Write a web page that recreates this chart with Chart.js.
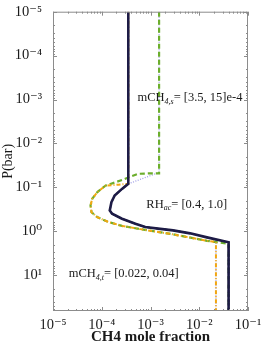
<!DOCTYPE html>
<html>
<head>
<meta charset="utf-8">
<script src="https://cdn.jsdelivr.net/npm/chart.js@4.4.0/dist/chart.umd.min.js"></script>
<style>
  html, body { margin: 0; padding: 0; background: #fff; }
  #wrap { width: 266px; height: 347px; }
</style>
</head>
<body>
<div id="wrap"><canvas id="myChart" width="266" height="347"></canvas></div>
<script>
// axis limits
let xMin = 1e-5, xMax = 1e-1;
let pMin = 1e-5, pMax = 65;

// mCH4,s = 3.5e-4, RH = 1.0, mCH4,t = 0.04
let pInner = [1e-5, 0.083, 0.108, 0.153, 0.217, 0.335, 0.398, 0.516, 0.67, 0.80, 0.877, 0.95, 1.11, 1.37, 1.77, 65];
let xInner = [3.5e-4, 3.5e-4, 2.6e-4, 1.84e-4, 1.58e-4, 1.46e-4, 1.63e-4, 2.6e-4, 4.9e-4, 7.8e-4, 1.58e-3, 2.9e-3, 6.5e-3, 1.44e-2, 0.04, 0.04];

// mCH4,s = 15e-4, RH = 0.4, mCH4,t = 0.04
let pOuter = [1e-5, 0.048, 0.048, 0.049, 0.057, 0.068, 0.091, 0.129, 0.182, 0.258, 0.366, 0.474, 0.616, 0.75, 0.89, 1.17, 1.64, 1.92, 65];
let xOuter = [1.5e-3, 1.5e-3, 8.98e-4, 5.6e-4, 3.85e-4, 2.6e-4, 1.19e-4, 8.05e-5, 6.37e-5, 5.88e-5, 6.16e-5, 8.05e-5, 1.39e-4, 2.6e-4, 6.17e-4, 2.9e-3, 1.44e-2, 0.04, 0.04];

// mCH4,s = 3.5e-4, RH = 0.4, mCH4,t = 0.022
let pOrange = [1e-5, 0.083, 0.0865, 0.091, 0.129, 0.182, 0.258, 0.366, 0.474, 0.616, 0.75, 0.89, 1.17, 1.64, 1.75, 65];
let xOrange = [3.5e-4, 3.5e-4, 2.19e-4, 1.19e-4, 8.05e-5, 6.37e-5, 5.88e-5, 6.16e-5, 8.05e-5, 1.39e-4, 2.6e-4, 6.17e-4, 2.9e-3, 1.44e-2, 0.022, 0.022];

// mCH4,s = 15e-4, RH = 1.0, mCH4,t = 0.022
let pLav = [1e-5, 0.0455, 0.083, 0.108, 0.153, 0.217, 0.335, 0.398, 0.516, 0.67, 0.80, 0.877, 0.95, 1.11, 1.37, 1.52, 65];
let xLav = [1.5e-3, 1.5e-3, 3.5e-4, 2.6e-4, 1.84e-4, 1.58e-4, 1.46e-4, 1.63e-4, 2.6e-4, 4.9e-4, 7.8e-4, 1.58e-3, 2.9e-3, 6.5e-3, 1.44e-2, 0.022, 0.022];

// annotations: [x, P, main, sub, rest]
let notes = [
  [5.4e-4, 9.3e-4, 'mCH', '4,s', '= [3.5, 15]e-4'],
  [8.2e-4, 0.245, 'RH', 'ac', '= [0.4, 1.0]'],
  [2.1e-5, 9.4, 'mCH', '4,t', '= [0.022, 0.04]']
];

let serif = "'Liberation Serif', 'DejaVu Serif', serif";

function pts(xs, ps) {
    return xs.map((x, i) => ({ x: x, y: ps[i] }));
}

let sup = { '0': '⁰', '1': '¹', '2': '²', '3': '³', '4': '⁴', '5': '⁵', '6': '⁶', '7': '⁷', '8': '⁸', '9': '⁹', '-': '⁻' };
function powLabel(v) {
    let l = Math.log10(v);
    if (Math.abs(l - Math.round(l)) > 1e-6) return '';
    return '10' + String(Math.round(l)).split('').map(c => sup[c]).join('');
}

let frameColor = '#8c8c8c';

let framePlugin = {
    id: 'frame',
    afterDatasetsDraw(chart) {
        let c = chart.ctx, a = chart.chartArea;
        let xs = chart.scales.x, ys = chart.scales.y;
        c.save();
        c.strokeStyle = frameColor;
        c.lineWidth = 1;
        c.strokeRect(a.left + 0.5, a.top + 0.5, a.right - a.left - 1, a.bottom - a.top - 1);
        c.beginPath();
        for (let e = -5; e <= 1; e++) {
            for (let m = 1; m <= 9; m++) {
                let v = m * Math.pow(10, e);
                let len = m === 1 ? 4 : 2;
                if (v >= xMin && v <= xMax) {
                    let px = Math.round(xs.getPixelForValue(v)) + 0.5;
                    c.moveTo(px, a.bottom); c.lineTo(px, a.bottom - len);
                    c.moveTo(px, a.top); c.lineTo(px, a.top + len);
                }
                if (v >= pMin && v <= pMax) {
                    let py = Math.round(ys.getPixelForValue(v)) + 0.5;
                    c.moveTo(a.left, py); c.lineTo(a.left + len, py);
                    c.moveTo(a.right, py); c.lineTo(a.right - len, py);
                }
            }
        }
        c.stroke();

        // annotations
        c.fillStyle = '#1a1a1a';
        c.textBaseline = 'middle';
        notes.forEach(n => {
            let x = xs.getPixelForValue(n[0]);
            let y = ys.getPixelForValue(n[1]);
            c.font = '12.5px ' + serif;
            c.fillText(n[2], x, y);
            x += c.measureText(n[2]).width;
            c.font = 'italic 8px ' + serif;
            c.fillText(n[3], x, y + 3.5);
            x += c.measureText(n[3]).width;
            c.font = '12.5px ' + serif;
            c.fillText(n[4], x, y);
        });
        c.restore();
    }
};

let ctx = document.getElementById('myChart').getContext('2d');

let myChart = new Chart(ctx, {
    type: 'scatter',
    data: {
        datasets: [
            { data: pts(xInner, pInner), borderColor: '#1d1b46', borderWidth: 2.6 },
            { data: pts(xOrange, pOrange), borderColor: '#f2a712', borderWidth: 2, borderDash: [4, 2, 1, 2] },
            { data: pts(xInner, pInner), borderColor: '#000000', borderWidth: 1.6, borderDash: [3, 1.5] },
            { data: pts(xOuter, pOuter), borderColor: '#6cae2c', borderWidth: 2.2, borderDash: [5, 3] },
            { data: pts(xLav, pLav), borderColor: '#9d9de6', borderWidth: 1.3, borderDash: [1, 1.5] }
        ].map(d => Object.assign(d, { showLine: true, pointRadius: 0, tension: 0, fill: false }))
    },
    options: {
        responsive: false,
        devicePixelRatio: 1,
        animation: false,
        layout: { padding: { top: 10, right: 18, left: 0, bottom: 0 } },
        plugins: { legend: { display: false }, tooltip: { enabled: false } },
        scales: {
            x: {
                type: 'logarithmic',
                min: xMin,
                max: xMax,
                grid: { display: false },
                border: { display: false },
                afterFit: s => { s.height = 36; },
                ticks: {
                    autoSkip: false,
                    maxRotation: 0,
                    padding: -3,
                    color: '#1a1a1a',
                    font: { family: serif, size: 14.5 },
                    callback: v => powLabel(v)
                },
                title: {
                    display: true,
                    text: 'CH4 mole fraction',
                    color: '#1a1a1a',
                    font: { family: serif, size: 15, weight: 'bold' },
                    padding: { top: 0, bottom: 1 }
                }
            },
            y: {
                type: 'logarithmic',
                reverse: true,
                min: pMin,
                max: pMax,
                grid: { display: false },
                border: { display: false },
                afterFit: s => { s.width = 53; },
                ticks: {
                    autoSkip: false,
                    padding: 3,
                    color: '#1a1a1a',
                    font: { family: serif, size: 14.5 },
                    callback: v => powLabel(v)
                },
                title: {
                    display: true,
                    text: 'P(bar)',
                    color: '#1a1a1a',
                    font: { family: serif, size: 14 },
                    padding: { top: 0, bottom: 0 }
                }
            }
        }
    },
    plugins: [framePlugin]
});
</script>
</body>
</html>
